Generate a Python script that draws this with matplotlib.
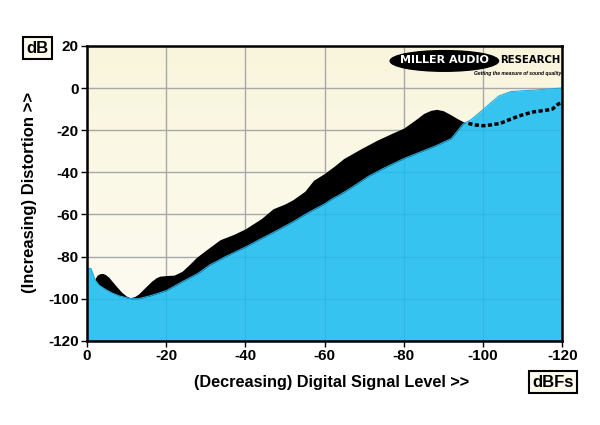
import numpy as np
import matplotlib
matplotlib.use("Agg")
import matplotlib.pyplot as plt
from matplotlib.patches import Ellipse

# ---- data ----
blue_x = [0, -1, -2, -3, -4.5, -6, -8, -11, -13, -16, -20, -24, -28, -31, -35, -40,
          -44, -48, -52, -56, -60, -62, -64, -67, -71, -75, -80, -84, -88, -92, -95,
          -97, -100, -102, -104, -107, -110, -113, -116, -120]
blue_y = [-85.5, -85.7, -91, -93.5, -95.4, -97, -98.6, -100, -100, -98.6, -96.2, -92,
          -88, -84, -80, -75.5, -71.5, -67.6, -63.5, -59, -55, -52.5, -50.5, -47, -42,
          -38, -33.5, -30.5, -27.5, -24, -17, -15, -10.3, -7, -3.8, -1.7, -1.3, -1,
          -0.5, 0]

black_x = [-2, -2.6, -3.3, -4.0, -4.7, -5.5, -6.2, -7.5, -8.8, -10.0, -10.9, -12.0, -13,
           -14.5, -16.3, -17.5, -18.4, -20, -22, -24, -26, -27.7, -30,
           -33.6, -37, -40, -44, -47, -50, -52, -55, -57.2, -60, -62.5, -64.8, -69, -73.2,
           -77, -80, -83, -85, -86.8, -88.3, -90, -91.7, -93.5, -95, -96.5]
black_y = [-90.5, -88.8, -88.1, -88.0, -88.6, -89.8, -91.4, -94.3, -97, -98.8, -99.5,
           -99.0, -97.8, -95.0, -91.7, -90.0, -89.3, -89.0, -88.8, -87, -83.5, -80.3, -77,
           -72, -69.5, -66.8, -62, -57.3, -55, -53, -49, -43.8, -40.5, -37, -33.5, -29,
           -24.8, -21.5, -19, -15, -12.1, -10.6, -10.1, -10.8, -12.5, -14.5, -16, -17]

dash_x = [-96.3, -98, -100, -102, -104.3, -106, -108.6, -110, -112.8, -116, -117.5,
          -119, -120]
dash_y = [-16.8, -17.5, -17.9, -17.5, -16.8, -15.5, -13.6, -12.7, -11.3, -10.5, -10,
          -7.6, -7]

xticks = [0, -20, -40, -60, -80, -100, -120]
yticks = [20, 0, -20, -40, -60, -80, -100, -120]

# ---- figure ----
plt.rcParams['font.family'] = ['Liberation Sans', 'DejaVu Sans']
fig = plt.figure(figsize=(6, 4.25), dpi=100)
ax = fig.add_axes([0.145, 0.198, 0.792, 0.694])

ax.set_xlim(0, -120)
ax.set_ylim(-120, 20)

# gradient background
grad = np.linspace(0, 1, 256).reshape(-1, 1)
top = np.array([249, 245, 220]) / 255.0
bot = np.array([253, 252, 244]) / 255.0
img = top[None, None, :] * (1 - grad[:, :, None]) + bot[None, None, :] * grad[:, :, None]
ax.imshow(img, extent=[0, 1, 0, 1], transform=ax.transAxes, aspect='auto', zorder=0)

for xt in xticks:
    ax.axvline(xt, color='#a8a8a8', lw=1.0, zorder=1)
for yt in yticks:
    ax.axhline(yt, color='#a8a8a8', lw=1.0, zorder=1)

ax.fill_between(black_x, black_y, -120, color='black', lw=0, zorder=2)
blue_poly = ax.fill_between(blue_x, blue_y, -120, color='#36c3ef', lw=0, zorder=3)
ax.plot(blue_x, blue_y, color='#22aee0', lw=0.8, zorder=3.5)

# faint grid over blue, clipped to the blue area
clip_path = blue_poly.get_paths()[0]
for xt in xticks:
    ln = ax.axvline(xt, color='#1c8fbf', lw=0.8, alpha=0.2, zorder=4)
    ln.set_clip_path(clip_path, ax.transData)
for yt in yticks:
    ln = ax.axhline(yt, color='#1c8fbf', lw=0.8, alpha=0.2, zorder=4)
    ln.set_clip_path(clip_path, ax.transData)

ax.plot(dash_x, dash_y, color='black', lw=2.5, linestyle=(0, (1.2, 0.7)),
        dash_capstyle='butt', zorder=5)

ax.set_xticks(xticks)
ax.set_yticks(yticks)
ax.set_xticklabels([str(v) for v in xticks], fontsize=11, fontweight='bold')
ax.set_yticklabels([str(v) for v in yticks], fontsize=11, fontweight='bold')
ax.tick_params(direction='out', length=4, width=1, color='black', pad=2)
for s in ax.spines.values():
    s.set_linewidth(1.8)
    s.set_color('black')
    s.set_zorder(6)

# logo
ell = Ellipse((0.752, 0.949), 0.228, 0.07, transform=ax.transAxes, color='black', zorder=7)
ax.add_patch(ell)
ax.text(0.752, 0.951, 'MILLER AUDIO', transform=ax.transAxes, color='white',
        fontsize=8.0, fontweight='bold', family='DejaVu Sans', ha='center', va='center', zorder=8)
ax.text(0.997, 0.951, 'RESEARCH', transform=ax.transAxes, color='black',
        fontsize=7.3, fontweight='bold', family='DejaVu Sans', ha='right', va='center', zorder=8)
ax.text(0.997, 0.905, 'Getting the measure of sound quality', transform=ax.transAxes,
        color='black', fontsize=3.6, fontweight='bold', style='italic', ha='right',
        va='center', zorder=8)

# axis labels and unit boxes
fig.text(0.552, 0.099, '(Decreasing) Digital Signal Level >>', fontsize=11.7,
         fontweight='bold', ha='center', va='center')
fig.text(0.05, 0.547, '(Increasing) Distortion >>', fontsize=12, fontweight='bold',
         ha='center', va='center', rotation=90)
box = dict(boxstyle='square,pad=0.2', facecolor='#fdfbee', edgecolor='black', lw=1.5)
fig.text(0.062, 0.887, 'dB', fontsize=12, fontweight='bold', ha='center', va='center', bbox=box)
fig.text(0.922, 0.101, 'dBFs', fontsize=12, fontweight='bold', ha='center', va='center', bbox=box)

fig.savefig('out.png', dpi=100, facecolor='white')
